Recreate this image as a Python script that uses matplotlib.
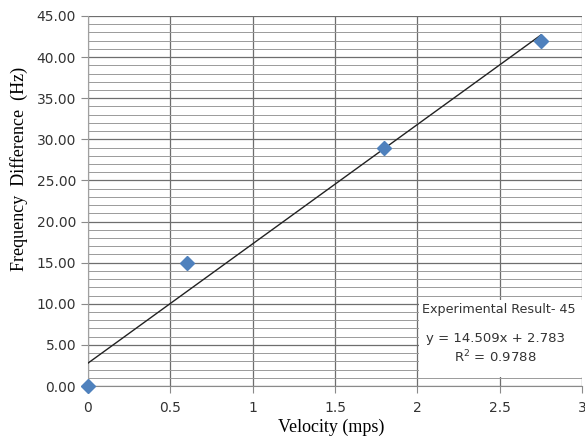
import numpy as np
import matplotlib.pyplot as plt
from matplotlib.ticker import MultipleLocator, FormatStrFormatter

# measured points
velocity = [0.0, 0.6, 1.8, 2.75]
freq_diff = [0.0, 15.0, 29.0, 42.0]

# linear trendline coefficients
slope = 14.509
intercept = 2.783
r_squared = 0.9788

series_name = "Experimental Result- 45"

fig = plt.figure(figsize=(5.85, 4.44), dpi=100)
ax = fig.add_axes([0.1504, 0.1306, 0.8446, 0.8334])

ax.set_xlim(0, 3)
ax.set_ylim(0, 45)
ax.xaxis.set_major_locator(MultipleLocator(0.5))
ax.yaxis.set_major_locator(MultipleLocator(5))
ax.yaxis.set_minor_locator(MultipleLocator(1))
ax.xaxis.set_major_formatter(lambda v, p: f"{v:g}")
ax.yaxis.set_major_formatter(FormatStrFormatter("%.2f"))

ax.grid(which="major", axis="both", color="#6e6e6e", linewidth=0.9)
ax.grid(which="minor", axis="y", color="#9a9a9a", linewidth=0.7)
ax.set_axisbelow(True)

for side in ["top", "right"]:
    ax.spines[side].set_visible(False)
ax.spines["left"].set_color("#a0a0a0")
ax.spines["bottom"].set_color("#8a8a8a")

ax.tick_params(axis="both", which="major", length=5, color="#8a8a8a",
               labelsize=10, labelcolor="#333333")
ax.tick_params(axis="x", which="major", pad=6)
ax.tick_params(axis="y", which="minor", length=0)
for lab in ax.get_xticklabels() + ax.get_yticklabels():
    lab.set_family("DejaVu Sans")

# trendline
xs = np.array([velocity[0], velocity[-1]])
ax.plot(xs, slope * xs + intercept, color="#222222", linewidth=1.0, zorder=3)

ax.plot(velocity, freq_diff, linestyle="none", marker="D", markersize=7,
        color="#4f81bd", markeredgecolor="#4f81bd", zorder=4, clip_on=False)

ax.set_xlabel("Velocity (mps)", family="Liberation Serif", fontsize=13,
              va="center")
ax.xaxis.set_label_coords(0.492, -0.111)
ax.set_ylabel("Frequency  Difference  (Hz)", family="Liberation Serif",
              fontsize=13, va="center")
ax.yaxis.set_label_coords(-0.140, 0.586)

# label box for the series and fit
box = plt.Rectangle((419 / 585, 1 - 377 / 444), 170 / 585, 77 / 444,
                    transform=fig.transFigure, facecolor="white",
                    edgecolor="none", zorder=5)
fig.add_artist(box)
fig.text(422 / 585, 1 - 309 / 444, series_name, fontsize=9.2,
         color="#333333", va="center", ha="left", zorder=6)
fig.text(495 / 585, 1 - 338 / 444, f"y = {slope}x + {intercept}",
         fontsize=9.5, color="#333333", va="center", ha="center", zorder=6)
fig.text(495 / 585, 1 - 357 / 444, f"R$^2$ = {r_squared}",
         fontsize=9.5, color="#333333", va="center", ha="center", zorder=6)

fig.savefig("out.png", dpi=100)
